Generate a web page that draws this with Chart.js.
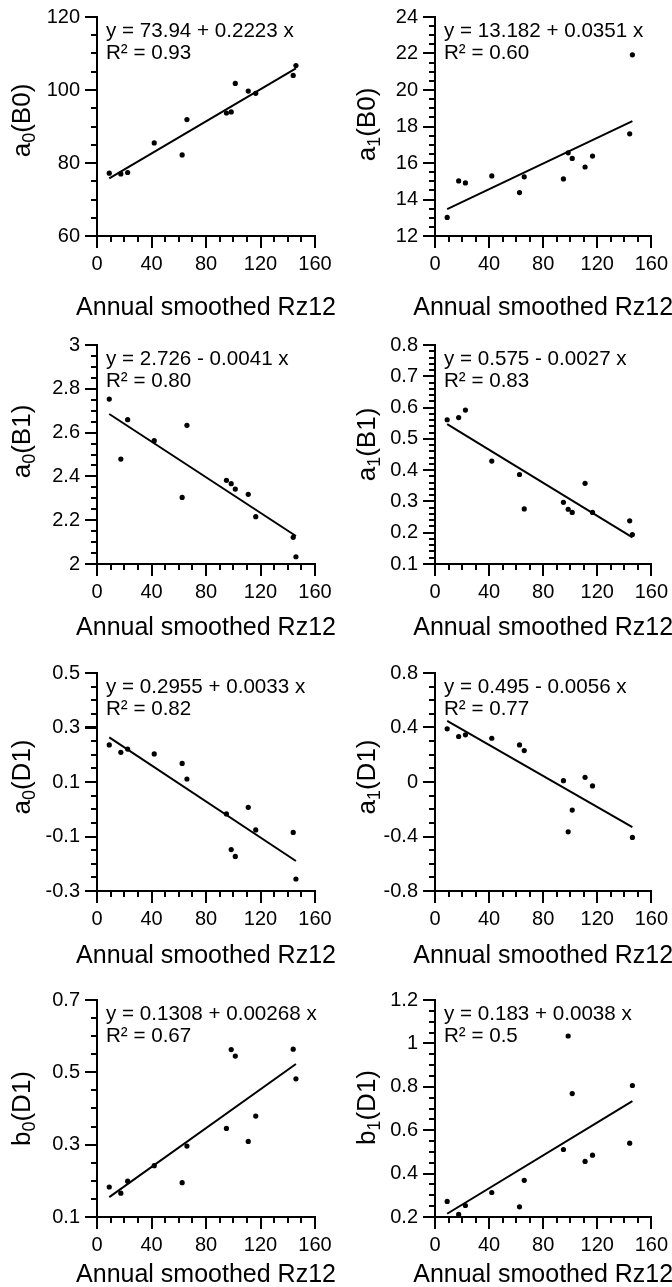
<!DOCTYPE html>
<html>
<head>
<meta charset="utf-8">
<script src="https://cdn.jsdelivr.net/npm/chart.js@4"></script>
<style>
  body { margin: 0; background: #fff; width: 672px; height: 1287px; position: relative; overflow: hidden; }
  canvas { position: absolute; }
</style>
</head>
<body>
<script>
// annual smoothed sunspot number, shared by every panel
const rz12 = [9, 17.5, 22.5, 42, 62.5, 66, 95, 98.5, 101.5, 111, 116.5, 144, 146];
const xTicks = [0, 40, 80, 120, 160];

const a0B0 = [77.2, 77.0, 77.4, 85.5, 82.2, 91.9, 93.7, 94.0, 101.8, 99.7, 99.1, 104.0, 106.7];
const a1B0 = [13.02, 15.02, 14.91, 15.29, 14.38, 15.24, 15.13, 16.56, 16.25, 15.78, 16.38, 17.6, 21.93];
const a0B1 = [2.753, 2.479, 2.659, 2.563, 2.304, 2.633, 2.382, 2.367, 2.342, 2.318, 2.216, 2.122, 2.033];
const a1B1 = [0.561, 0.568, 0.592, 0.429, 0.386, 0.276, 0.297, 0.275, 0.265, 0.358, 0.265, 0.238, 0.194];
const a0D1 = [0.236, 0.209, 0.221, 0.203, 0.168, 0.111, -0.017, -0.148, -0.173, 0.007, -0.076, -0.085, -0.256];
const a1D1 = [0.390, 0.334, 0.346, 0.321, 0.272, 0.231, 0.010, -0.366, -0.206, 0.034, -0.029, null, -0.407];
const b0D1 = [0.183, 0.166, 0.199, 0.242, 0.195, 0.296, 0.345, 0.563, 0.545, 0.309, 0.379, 0.564, 0.482];
const b1D1 = [0.272, 0.212, 0.253, 0.313, 0.247, 0.369, 0.511, 1.034, 0.769, 0.456, 0.485, 0.540, 0.806];

// regression line ends
const fitX = [9, 146];
const a0B0Fit = [75.8, 105.9];
const a1B0Fit = [13.47, 18.29];
const a0B1Fit = [2.685, 2.128];
const a1B1Fit = [0.547, 0.185];
const a0D1Fit = [0.264, -0.190];
const a1D1Fit = [0.449, -0.331];
const b0D1Fit = [0.155, 0.523];
const b1D1Fit = [0.215, 0.734];

const a0B0Ticks = [60, 80, 100, 120];
const a1B0Ticks = [12, 14, 16, 18, 20, 22, 24];
const a0B1Ticks = [2, 2.2, 2.4, 2.6, 2.8, 3];
const a1B1Ticks = [0.1, 0.2, 0.3, 0.4, 0.5, 0.6, 0.7, 0.8];
const a0D1Ticks = [-0.3, -0.1, 0.1, 0.3, 0.5];
const a1D1Ticks = [-0.8, -0.4, 0, 0.4, 0.8];
const b0D1Ticks = [0.1, 0.3, 0.5, 0.7];
const b1D1Ticks = [0.2, 0.4, 0.6, 0.8, 1, 1.2];

const panels = [
  { ys: a0B0, fit: a0B0Fit, ticks: a0B0Ticks, minor: 5,    name: ['a', '0', '(B0)'], eq: 'y = 73.94 + 0.2223 x',   r2: 'R² = 0.93', dy: -6 },
  { ys: a1B0, fit: a1B0Fit, ticks: a1B0Ticks, minor: 0.5,  name: ['a', '1', '(B0)'], eq: 'y = 13.182 + 0.0351 x',  r2: 'R² = 0.60', dy: -2 },
  { ys: a0B1, fit: a0B1Fit, ticks: a0B1Ticks, minor: 0.05, name: ['a', '0', '(B1)'], eq: 'y = 2.726 - 0.0041 x',   r2: 'R² = 0.80', dy: -13 },
  { ys: a1B1, fit: a1B1Fit, ticks: a1B1Ticks, minor: 0.02, name: ['a', '1', '(B1)'], eq: 'y = 0.575 - 0.0027 x',   r2: 'R² = 0.83', dy: -10 },
  { ys: a0D1, fit: a0D1Fit, ticks: a0D1Ticks, minor: 0.05, name: ['a', '0', '(D1)'], eq: 'y = 0.2955 + 0.0033 x',  r2: 'R² = 0.82', dy: -5 },
  { ys: a1D1, fit: a1D1Fit, ticks: a1D1Ticks, minor: 0.1,  name: ['a', '1', '(D1)'], eq: 'y = 0.495 - 0.0056 x',   r2: 'R² = 0.77', dy: -5 },
  { ys: b0D1, fit: b0D1Fit, ticks: b0D1Ticks, minor: 0.05, name: ['b', '0', '(D1)'], eq: 'y = 0.1308 + 0.00268 x', r2: 'R² = 0.67', dy: 0 },
  { ys: b1D1, fit: b1D1Fit, ticks: b1D1Ticks, minor: 0.05, name: ['b', '1', '(D1)'], eq: 'y = 0.183 + 0.0038 x',   r2: 'R² = 0.5',  dy: -1 }
];

const cols = [
  { left: 0,   width: 336, plotLeft: 97,  plotRight: 315, titleX: 30 },
  { left: 336, width: 336, plotLeft: 435, plotRight: 655, titleX: 39 }
];
const rows = [
  { top: 0,   height: 328, plotTop: 17,  plotBottom: 236,  titleGap: 79 },
  { top: 328, height: 328, plotTop: 345, plotBottom: 564,  titleGap: 71 },
  { top: 656, height: 327, plotTop: 673, plotBottom: 891,  titleGap: 72 },
  { top: 983, height: 304, plotTop: 999, plotBottom: 1217, titleGap: 65 }
];

const FONT = '"Liberation Sans", Arial, sans-serif';

const decorPlugin = {
  id: 'decor',
  afterDraw(chart) {
    const p = chart.config.options.plugins.decor;
    const {ctx, chartArea} = chart;
    const xs = chart.scales.x, ys = chart.scales.y;
    ctx.save();
    ctx.strokeStyle = '#000';
    ctx.lineWidth = 2;
    ctx.beginPath();
    // minor and major tick marks, outside the axes
    let n = Math.round((xs.max - xs.min) / 10);
    for (let i = 0; i <= n; i++) {
      const v = xs.min + i * 10;
      const len = xTicks.includes(v) ? 12 : 6;
      const px = Math.round(xs.getPixelForValue(v));
      ctx.moveTo(px, chartArea.bottom);
      ctx.lineTo(px, chartArea.bottom + len);
    }
    n = Math.round((ys.max - ys.min) / p.minor);
    for (let i = 0; i <= n; i++) {
      const v = ys.min + i * p.minor;
      const major = p.ticks.some(t => Math.abs(t - v) < p.minor / 10);
      const len = major ? 12 : 6;
      const py = Math.round(ys.getPixelForValue(v));
      ctx.moveTo(chartArea.left, py);
      ctx.lineTo(chartArea.left - len, py);
    }
    ctx.stroke();

    ctx.fillStyle = '#000';
    // equation
    ctx.font = '20.6px ' + FONT;
    ctx.textAlign = 'left';
    ctx.textBaseline = 'alphabetic';
    ctx.fillText(p.eq, chartArea.left + 9, chartArea.top + 20);
    ctx.fillText(p.r2, chartArea.left + 9, chartArea.top + 42);

    // x title
    ctx.font = '25px ' + FONT;
    ctx.textAlign = 'center';
    ctx.fillText('Annual smoothed Rz12', (chartArea.left + chartArea.right) / 2, chartArea.bottom + p.titleGap);

    // y title with subscript
    const [base, sub, rest] = p.name;
    ctx.font = '26px ' + FONT;
    const w1 = ctx.measureText(base).width;
    const w3 = ctx.measureText(rest).width;
    ctx.font = '18px ' + FONT;
    const w2 = ctx.measureText(sub).width;
    const total = w1 + w2 + w3;
    ctx.translate(p.titleX, (chartArea.top + chartArea.bottom) / 2 + p.dy);
    ctx.rotate(-Math.PI / 2);
    ctx.textAlign = 'left';
    let x = -total / 2;
    ctx.font = '26px ' + FONT;
    ctx.fillText(base, x, 0);
    x += w1;
    ctx.font = '18px ' + FONT;
    ctx.fillText(sub, x, 5);
    x += w2;
    ctx.font = '26px ' + FONT;
    ctx.fillText(rest, x, 0);
    ctx.restore();
  }
};

panels.forEach((panel, k) => {
  const col = cols[k % 2];
  const row = rows[Math.floor(k / 2)];
  const canvas = document.createElement('canvas');
  canvas.width = col.width;
  canvas.height = row.height;
  canvas.style.left = col.left + 'px';
  canvas.style.top = row.top + 'px';
  canvas.style.width = col.width + 'px';
  canvas.style.height = row.height + 'px';
  document.body.appendChild(canvas);

  const points = [];
  rz12.forEach((x, i) => { if (panel.ys[i] !== null) points.push({x: x, y: panel.ys[i]}); });
  const line = fitX.map((x, i) => ({x: x, y: panel.fit[i]}));

  const axisBase = {
    type: 'linear',
    grid: { drawOnChartArea: false, drawTicks: true, tickLength: 12, color: '#000', lineWidth: 2 },
    border: { display: true, color: '#000', width: 2 },
    ticks: {
      autoSkip: false, maxRotation: 0, color: '#000',
      font: { family: FONT, size: 20 },
      callback: v => String(+v.toFixed(3))
    }
  };

  new Chart(canvas, {
    type: 'scatter',
    data: {
      datasets: [
        { data: points, pointRadius: 2.6, pointBackgroundColor: '#000', pointBorderWidth: 0 },
        { type: 'line', data: line, borderColor: '#000', borderWidth: 2, pointRadius: 0, fill: false }
      ]
    },
    options: {
      responsive: false,
      animation: false,
      devicePixelRatio: 1,
      layout: { padding: { top: row.plotTop - row.top, right: col.left + col.width - col.plotRight, left: 0, bottom: 0 } },
      plugins: {
        legend: { display: false },
        tooltip: { enabled: false },
        decor: { eq: panel.eq, r2: panel.r2, name: panel.name, minor: panel.minor, ticks: panel.ticks, dy: panel.dy, titleX: col.titleX, titleGap: row.titleGap }
      },
      scales: {
        x: Object.assign({}, axisBase, {
          min: 0, max: 160,
          ticks: Object.assign({}, axisBase.ticks, { padding: 4 }),
          afterBuildTicks: s => { s.ticks = xTicks.map(v => ({value: v})); },
          afterFit: s => { s.height = row.height - (row.plotBottom - row.top); }
        }),
        y: Object.assign({}, axisBase, {
          min: panel.ticks[0], max: panel.ticks[panel.ticks.length - 1],
          ticks: Object.assign({}, axisBase.ticks, { padding: 5 }),
          afterBuildTicks: s => { s.ticks = panel.ticks.map(v => ({value: v})); },
          afterFit: s => { s.width = col.plotLeft - col.left; }
        })
      }
    },
    plugins: [decorPlugin]
  });
});
</script>
</body>
</html>
